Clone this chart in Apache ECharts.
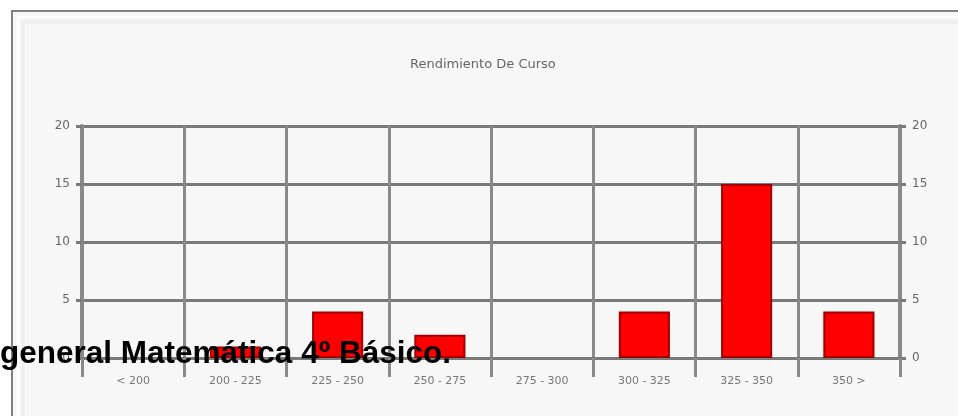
<!DOCTYPE html>
<html>
<head>
<meta charset="utf-8">
<script src="https://cdn.jsdelivr.net/npm/echarts@6/dist/echarts.min.js"></script>
<style>
  html, body { margin: 0; padding: 0; background: #ffffff; }
  #wrap { position: relative; width: 958px; height: 416px; overflow: hidden; }
  #chart { position: absolute; left: 0; top: 0; width: 958px; height: 416px; }
  #overlay {
    position: absolute; left: 0; top: 337px; white-space: nowrap;
    font-family: "Liberation Sans", Arial, sans-serif; font-weight: bold;
    font-size: 31.5px; line-height: 31px; color: #000; z-index: 5;
  }
</style>
</head>
<body>
<div id="wrap">
  <div id="chart"></div>
  <div id="overlay">general Matemática 4º Básico.</div>
</div>
<script>
const chartTitle = 'Rendimiento De Curso';
const categories = ['< 200', '200 - 225', '225 - 250', '250 - 275', '275 - 300', '300 - 325', '325 - 350', '350 >'];
const counts = [0, 1, 4, 2, 0, 4, 15, 4];
const yMin = 0, yMax = 20, yStep = 5;

const chart = echarts.init(document.getElementById('chart'), null, { renderer: 'canvas' });
const gridLine = { color: '#7a7a7a', width: 3 };
const yAxisCommon = {
  type: 'value', min: yMin, max: yMax, interval: yStep,
  axisLine: { show: true, lineStyle: { color: '#8a8a8a', width: 4 } },
  axisTick: { show: true, length: 6, lineStyle: { color: '#7a7a7a', width: 3 } },
  axisLabel: { color: '#666', fontSize: 12, fontFamily: 'DejaVu Sans', margin: 12 },
  splitLine: { show: true, lineStyle: gridLine }
};
const barData = counts.map(v => v === 0
  ? { value: v, itemStyle: { borderWidth: 0, color: 'rgba(0,0,0,0)' } }
  : v);
chart.setOption({
  animation: false,
  backgroundColor: 'transparent',
  graphic: [
    { type: 'rect', z: -10, silent: true, shape: { x: 12, y: 11, width: 960, height: 430 },
      style: { fill: '#f7f7f7', stroke: '#808080', lineWidth: 2 } },
    { type: 'rect', z: -9, silent: true, shape: { x: 18, y: 17, width: 950, height: 420 },
      style: { fill: 'none', stroke: '#ffffff', lineWidth: 2 } },
    { type: 'rect', z: -9, silent: true, shape: { x: 23, y: 22, width: 940, height: 410 },
      style: { fill: 'none', stroke: '#eeeeee', lineWidth: 3 } }
  ],
  title: {
    text: chartTitle, left: 405, top: 53,
    textStyle: { color: '#666', fontSize: 13, fontWeight: 'normal', fontFamily: 'DejaVu Sans' }
  },
  grid: { left: 82, right: 58, top: 126, bottom: 58, containLabel: false },
  xAxis: {
    type: 'category', data: categories, boundaryGap: true,
    axisLine: { show: true, lineStyle: { color: '#7a7a7a', width: 3 } },
    axisTick: { show: true, length: 19, lineStyle: { color: '#8a8a8a', width: 3 } },
    axisLabel: { color: '#777', fontSize: 11, fontFamily: 'DejaVu Sans', margin: 18, interval: 0 },
    splitLine: { show: true, lineStyle: { color: '#8a8a8a', width: 3 } }
  },
  yAxis: [
    Object.assign({}, yAxisCommon, { position: 'left' }),
    Object.assign({}, yAxisCommon, { position: 'right', splitLine: { show: false } })
  ],
  series: [{
    type: 'bar', data: barData, barWidth: '50%', yAxisIndex: 0,
    itemStyle: { color: '#ff0000', borderColor: '#a00000', borderWidth: 2 }
  }]
});
</script>
</body>
</html>
